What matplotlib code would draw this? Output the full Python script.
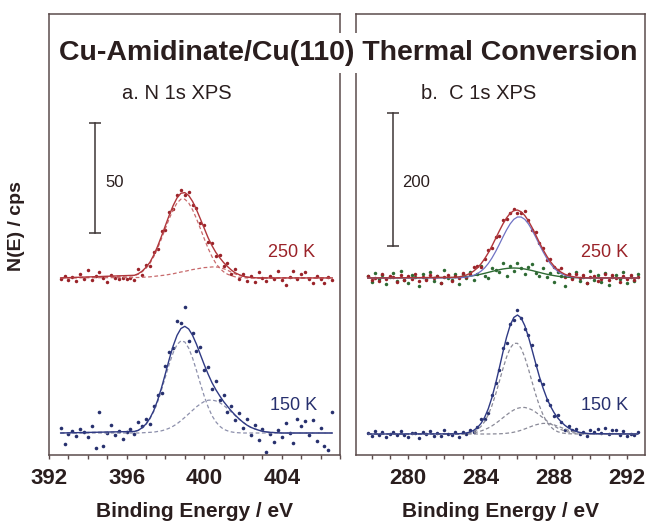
import numpy as np
import matplotlib.pyplot as plt
from matplotlib.ticker import MultipleLocator

# N 1s panel: energy channels (eV) and fit grid
n1s_energy = np.round(np.arange(392.6, 406.7, 0.2), 1)
n1s_fit_energy = np.round(np.r_[392.6, np.arange(396.4, 404.1, 0.2), 406.6], 1)

n250_data = [80.0, 81.5, 79.5, 81.0, 79.0, 82.5, 80.0, 84.0, 79.5, 81.5, 83.0, 80.5, 78.5, 82.0,
             80.5, 80.0, 80.5, 80.0, 80.5, 79.5, 84.5, 82.0, 86.5, 86.0, 92.5, 93.5, 102.0, 102.5,
             110.5, 112.0, 118.0, 120.5, 118.0, 119.5, 113.5, 112.5, 105.5, 104.5, 97.0, 96.5, 90.5,
             91.0, 86.0, 87.5, 82.5, 84.5, 80.0, 82.5, 79.0, 81.5, 78.5, 83.0, 80.5, 79.0, 81.5, 80.0,
             83.5, 79.5, 77.5, 81.0, 83.5, 80.0, 82.5, 83.0, 80.0, 78.0, 81.5, 80.0, 78.0, 81.0, 79.5]
n250_fit = [80.5, 81.7, 82.4, 83.6, 85.3, 87.6, 90.9, 94.9, 99.5, 104.3, 109.1, 113.4, 116.9, 119.0,
            119.3, 118.0, 115.3, 111.6, 107.4, 103.1, 98.8, 95.2, 92.1, 89.7, 87.5, 85.7, 84.1, 82.8,
            82.0, 81.3, 80.9, 80.7, 80.6, 80.5, 80.5, 80.5, 80.5, 80.5, 80.5, 80.5, 80.5]
n250_main = [80.5, 81.5, 82.2, 83.3, 84.9, 87.1, 90.2, 94.0, 98.4, 103.0, 107.5, 111.5, 114.6, 116.3,
             116.3, 114.6, 111.5, 107.5, 103.0, 98.4, 94.0, 90.2, 87.1, 84.9, 83.3, 82.2, 81.5, 81.0,
             80.8, 80.6, 80.5, 80.5, 80.5, 80.5, 80.5, 80.5, 80.5, 80.5, 80.5, 80.5, 80.5]
n250_second = [80.5, 80.7, 80.7, 80.8, 80.9, 81.0, 81.2, 81.4, 81.6, 81.8, 82.1, 82.4, 82.8, 83.2,
               83.5, 83.9, 84.3, 84.6, 84.9, 85.2, 85.3, 85.5, 85.5, 85.3, 84.7, 84.0, 83.1, 82.3,
               81.7, 81.2, 80.9, 80.7, 80.6, 80.5, 80.5, 80.5, 80.5, 80.5, 80.5, 80.5, 80.5]

n150_data = [12.5, 5.0, 9.5, 11.0, 8.5, 12.0, 10.5, 8.0, 13.0, 3.0, 19.5, 4.0, 10.0, 13.5, 9.0, 11.0,
             7.5, 10.5, 12.0, 9.5, 15.0, 13.0, 16.5, 14.0, 22.5, 27.5, 28.0, 40.5, 47.0, 48.5, 61.0,
             60.0, 67.5, 52.0, 55.5, 47.5, 49.0, 38.5, 40.0, 30.0, 33.5, 25.0, 27.5, 19.5, 22.5, 16.0,
             19.0, 12.5, 16.5, 9.0, 13.5, 7.0, 12.0, 1.5, 9.5, 6.0, 11.5, 8.0, 14.5, 10.0, 5.5, 16.5,
             13.0, 15.5, 9.0, 16.0, 6.5, 12.5, 4.0, 2.5, 19.5]
n150_fit = [10.0, 10.7, 11.2, 12.4, 14.1, 16.7, 20.2, 24.9, 30.6, 37.0, 43.6, 49.6, 54.4, 57.5, 58.5,
            57.3, 54.4, 50.4, 45.7, 41.1, 36.8, 32.9, 29.7, 26.9, 24.3, 22.1, 20.0, 18.1, 16.4, 14.9,
            13.6, 12.6, 11.9, 11.3, 10.8, 10.5, 10.3, 10.2, 10.1, 10.0, 10.0]
n150_main = [10.0, 10.7, 11.2, 12.3, 13.9, 16.4, 19.8, 24.2, 29.6, 35.5, 41.4, 46.5, 50.2, 51.9, 51.4,
             48.6, 44.1, 38.5, 32.5, 26.8, 21.9, 17.9, 15.1, 13.1, 11.7, 11.0, 10.5, 10.2, 10.1, 10.0,
             10.0, 10.0, 10.0, 10.0, 10.0, 10.0, 10.0, 10.0, 10.0, 10.0, 10.0]
n150_second = [10.0, 10.0, 10.0, 10.1, 10.2, 10.3, 10.4, 10.7, 11.0, 11.5, 12.2, 13.1, 14.2, 15.6,
               17.1, 18.7, 20.3, 21.9, 23.2, 24.3, 24.9, 25.0, 24.6, 23.8, 22.6, 21.1, 19.5, 17.9,
               16.3, 14.9, 13.6, 12.6, 11.9, 11.3, 10.8, 10.5, 10.3, 10.2, 10.1, 10.0, 10.0]

# C 1s panel
c1s_energy = np.round(np.arange(277.8, 292.7, 0.2), 1)
c1s_fit_energy = np.round(np.r_[277.8, np.arange(282.6, 290.1, 0.2), 292.6], 1)

c250_red = [269.1, 263.1, 266.1, 261.3, 270.9, 264.3, 268.5, 266.7, 259.5, 269.7,
            261.9, 267.9, 263.7, 272.1, 260.7, 266.7, 262.5, 270.3, 264.9, 268.5,
            257.7, 266.4, 269.6, 260.8, 268.3, 264.8, 273.1, 266.4, 271.2, 281.9,
            283.0, 282.5, 294.3, 307.4, 310.5, 326.4, 329.2, 351.8, 353.8, 363.1,
            369.6, 362.7, 362.4, 366.5, 352.4, 337.6, 334.4, 317.7, 310.6, 292.7,
            293.9, 281.7, 278.0, 280.7, 266.9, 270.9, 264.7, 272.2, 265.6, 269.5,
            258.5, 266.8, 267.9, 260.7, 263.7, 271.5, 263.1, 269.7, 266.1, 260.1,
            268.5, 264.3, 270.3, 261.9, 267.3]
c250_green = [268.5, 259.5, 273.5, 263.5, 270.5, 256.5, 266.5, 272.5, 261.5, 275.5,
              262.5, 257.5, 269.5, 267.5, 253.5, 271.5, 264.5, 274.5, 260.5, 268.5,
              258.5, 276.8, 265.9, 263.0, 272.2, 256.6, 271.0, 265.5, 275.2, 263.1,
              272.1, 283.2, 268.5, 265.9, 280.3, 277.7, 274.9, 288.0, 268.8, 283.3,
              275.5, 287.3, 279.8, 272.0, 281.9, 286.7, 273.3, 267.9, 280.5, 267.2,
              273.1, 260.1, 274.2, 268.5, 254.0, 271.6, 265.2, 274.0, 260.8, 267.7,
              257.6, 276.6, 262.5, 269.5, 259.5, 272.5, 255.5, 267.5, 270.5, 263.5,
              274.5, 258.5, 266.5, 261.5, 271.5]
c250_red_fit = [265.5, 266.5, 267.2, 268.3, 270.0, 272.4, 275.9, 280.6, 286.7, 294.3, 303.2,
                313.5, 324.6, 335.8, 346.4, 355.6, 362.5, 366.6, 367.5, 364.8, 359.3, 351.2,
                341.2, 330.2, 318.9, 308.2, 298.7, 290.3, 283.5, 278.0, 274.1, 271.1, 269.1,
                267.7, 266.8, 266.2, 265.9, 265.7, 265.6, 265.5]
c250_blue_fit = [265.5, 265.7, 265.9, 266.3, 266.9, 267.9, 269.5, 272.0, 275.7, 280.6, 287.2,
                 295.4, 305.0, 315.7, 326.9, 337.5, 346.7, 353.5, 357.0, 357.0, 353.5, 346.7,
                 337.5, 326.9, 315.7, 305.0, 295.4, 287.2, 280.6, 275.7, 272.0, 269.5, 267.9,
                 266.9, 266.3, 265.9, 265.7, 265.6, 265.5, 265.5]
c250_green_fit = [265.5, 266.2, 266.6, 267.0, 267.5, 268.2, 269.1, 270.1, 271.2, 272.5, 273.9,
                  275.3, 276.7, 277.9, 279.0, 279.8, 280.3, 280.5, 280.3, 279.8, 279.0, 277.9,
                  276.7, 275.3, 273.9, 272.5, 271.2, 270.1, 269.1, 268.2, 267.5, 267.0, 266.6,
                  266.2, 266.0, 265.8, 265.7, 265.6, 265.6, 265.5]

c150_data = [33.0, 28.5, 35.5, 30.5, 34.0, 27.0, 32.0, 35.0, 29.5, 36.5,
             30.0, 27.5, 33.5, 32.5, 25.5, 34.5, 31.0, 36.0, 29.0, 33.0,
             28.0, 37.0, 31.5, 30.0, 34.7, 26.9, 34.4, 32.1, 38.0, 34.0,
             42.0, 53.3, 53.5, 63.4, 89.7, 107.8, 127.9, 160.5, 168.4, 196.6,
             202.3, 217.0, 205.6, 189.1, 180.3, 165.1, 135.7, 113.2, 106.6, 82.8,
             75.7, 57.8, 60.3, 50.0, 38.0, 43.0, 37.2, 39.5, 31.5, 34.0,
             28.4, 37.5, 35.0, 38.5, 33.5, 40.0, 31.5, 37.5, 37.0, 30.5,
             36.0, 28.0, 32.0, 29.5, 34.5]
c150_fit = [31.5, 31.7, 31.9, 32.4, 33.1, 34.5, 37.0, 41.0, 47.3, 56.5, 69.4, 86.2, 106.8, 129.9,
            154.0, 176.4, 194.6, 206.3, 210.0, 205.6, 194.1, 177.3, 157.6, 137.2, 117.7, 100.6,
            85.8, 73.7, 63.8, 55.8, 49.5, 44.5, 40.5, 37.7, 35.5, 34.0, 33.0, 32.4, 32.0, 31.5]
c150_a = [31.5, 31.6, 31.7, 31.9, 32.4, 33.3, 35.0, 38.0, 42.8, 50.0, 60.4, 74.0, 90.8, 109.7,
          129.1, 146.7, 160.2, 167.5, 167.5, 160.2, 146.7, 129.1, 109.7, 90.8, 74.0, 60.4, 50.0,
          42.8, 38.0, 35.0, 33.3, 32.4, 31.9, 31.7, 31.6, 31.5, 31.5, 31.5, 31.5, 31.5]
c150_b = [31.5, 31.6, 31.8, 31.9, 32.3, 32.7, 33.5, 34.5, 36.0, 38.0, 40.5, 43.6, 47.3, 51.4,
          55.8, 60.1, 64.2, 67.6, 70.0, 71.3, 71.3, 70.0, 67.6, 64.2, 60.1, 55.8, 51.4, 47.3,
          43.6, 40.5, 38.0, 36.0, 34.5, 33.5, 32.7, 32.3, 31.9, 31.8, 31.6, 31.5]
c150_c = [31.5, 31.5, 31.5, 31.5, 31.5, 31.5, 31.5, 31.5, 31.5, 31.5, 31.5, 31.6, 31.7, 31.8,
          32.1, 32.6, 33.2, 34.2, 35.5, 37.1, 39.1, 41.2, 43.3, 45.2, 46.6, 47.4, 47.4, 46.6,
          45.2, 43.3, 41.2, 39.1, 37.1, 35.5, 34.2, 33.2, 32.6, 32.1, 31.8, 31.5]

RED = '#9a2228'
RED_FIT = '#b0363b'
RED_DASH = '#c86a6c'
NAVY = '#27306e'
NAVY_FIT = '#2f3a84'
GREY_DASH = '#8d90ac'
GREEN = '#2e6a33'
LILAC = '#6f72c4'
INK = '#2a1e1e'
SPINE = '#5b4b4b'

plt.rcParams['font.family'] = ['Liberation Sans', 'DejaVu Sans']

W, H = 647, 523
fig = plt.figure(figsize=(W / 100, H / 100), dpi=100)


def px_axes(x0, x1, y0, y1):
    return fig.add_axes([x0 / W, 1 - y1 / H, (x1 - x0) / W, (y1 - y0) / H])


def fig_txt(x, y, s, **kw):
    fig.text(x / W, 1 - y / H, s, **kw)


def style_axes(ax):
    for sp in ax.spines.values():
        sp.set_color(SPINE)
        sp.set_linewidth(1.1)
    ax.set_yticks([])
    ax.xaxis.set_major_locator(MultipleLocator(4))
    ax.xaxis.set_minor_locator(MultipleLocator(1))
    ax.tick_params(axis='x', which='both', direction='out', length=3, width=1,
                   color=SPINE, pad=6, labelsize=16, labelcolor=INK)
    for lab in ax.get_xticklabels():
        lab.set_fontweight('bold')


dash = dict(ls=(0, (3, 2)), lw=0.9)

# ---- left: N 1s
ax1 = px_axes(49, 340, 14, 455)
ax1.set_xlim(392, 407)
ax1.set_ylim(0, 200.5)
ax1.plot(n1s_energy, n250_data, 'o', ms=2.5, mew=0, color=RED)
ax1.plot(n1s_fit_energy, n250_main, color=RED_DASH, **dash)
ax1.plot(n1s_fit_energy, n250_second, color=RED_DASH, **dash)
ax1.plot(n1s_fit_energy, n250_fit, color=RED_FIT, lw=1.0)
ax1.plot(n1s_energy, n150_data, 'o', ms=2.6, mew=0, color=NAVY)
ax1.plot(n1s_fit_energy, n150_main, color=GREY_DASH, **dash)
ax1.plot(n1s_fit_energy, n150_second, color=GREY_DASH, **dash)
ax1.plot(n1s_fit_energy, n150_fit, color=NAVY_FIT, lw=1.0)
# scale bar 50 cps
ax1.plot([394.35, 394.35], [101, 151], color='#3d3535', lw=1.1, marker='_', ms=9, mew=1.1)
style_axes(ax1)

# ---- right: C 1s
ax2 = px_axes(356, 645, 14, 455)
ax2.set_xlim(277.15, 292.99)
ax2.set_ylim(0, 661.5)
ax2.plot(c1s_energy, c250_green, 'o', ms=2.5, mew=0, color=GREEN)
ax2.plot(c1s_energy, c250_red, 'o', ms=2.5, mew=0, color=RED)
ax2.plot(c1s_fit_energy, c250_green_fit, color=GREEN, lw=1.0)
ax2.plot(c1s_fit_energy, c250_blue_fit, color=LILAC, lw=0.9)
ax2.plot(c1s_fit_energy, c250_red_fit, color=RED_FIT, lw=1.0)
ax2.plot(c1s_energy, c150_data, 'o', ms=2.5, mew=0, color=NAVY)
for comp in (c150_a, c150_b, c150_c):
    ax2.plot(c1s_fit_energy, comp, color='#8a8a98', **dash)
ax2.plot(c1s_fit_energy, c150_fit, color=NAVY_FIT, lw=1.0)
# scale bar 200 cps
ax2.plot([279.18, 279.18], [313, 513], color='#3d3535', lw=1.1, marker='_', ms=9, mew=1.1)
style_axes(ax2)

# ---- text
fig_txt(348, 60, 'Cu-Amidinate/Cu(110) Thermal Conversion', ha='center', va='baseline',
        fontsize=20.5, fontweight='bold', color=INK,
        bbox=dict(facecolor='white', edgecolor='none', pad=5))
fig_txt(122, 99, 'a. N 1s XPS', ha='left', va='baseline', fontsize=14.5, color=INK)
fig_txt(421, 99, 'b.  C 1s XPS', ha='left', va='baseline', fontsize=14.5, color=INK)
fig_txt(105, 187, '50', ha='left', va='baseline', fontsize=12, color=INK)
fig_txt(402, 187, '200', ha='left', va='baseline', fontsize=12, color=INK)
fig_txt(268, 257, '250 K', ha='left', va='baseline', fontsize=13, color=RED)
fig_txt(270, 410, '150 K', ha='left', va='baseline', fontsize=13, color=NAVY)
fig_txt(581, 257, '250 K', ha='left', va='baseline', fontsize=13, color=RED)
fig_txt(581, 410, '150 K', ha='left', va='baseline', fontsize=13, color=NAVY)
fig_txt(194, 517, 'Binding Energy / eV', ha='center', va='baseline', fontsize=15,
        fontweight='bold', color=INK)
fig_txt(500, 517, 'Binding Energy / eV', ha='center', va='baseline', fontsize=15,
        fontweight='bold', color=INK)
fig_txt(17, 226, 'N(E) / cps', ha='center', va='center', rotation=90, fontsize=14,
        fontweight='bold', color=INK)

fig.savefig('out.png', dpi=100, facecolor='white')
